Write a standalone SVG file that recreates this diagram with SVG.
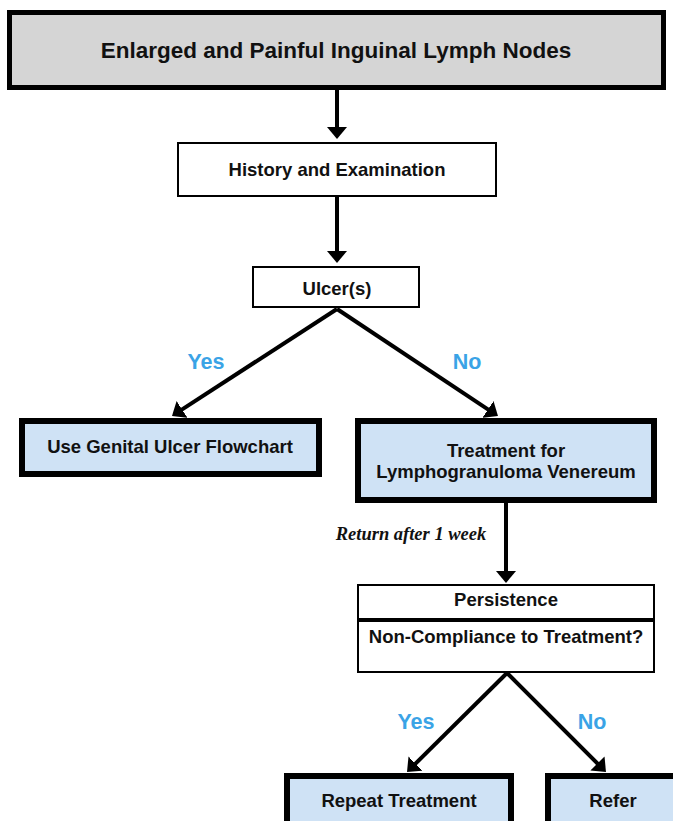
<svg xmlns="http://www.w3.org/2000/svg" width="673" height="821" viewBox="0 0 673 821">
<style>
  text { font-family: "Liberation Sans", Arial, sans-serif; font-weight: bold; fill: #111; text-anchor: middle; }
  .t18 { font-size: 18.5px; }
  .title { font-size: 22.5px; }
  .yn { font-size: 21.5px; fill: #3aa3e6; }
  .note { font-family: "Liberation Serif", "Times New Roman", serif; font-style: italic; font-size: 18.5px; }
  .thick { fill: #cfe2f5; stroke: #000; stroke-width: 6; }
  .thin { fill: #fff; stroke: #000; stroke-width: 2; }
  .conn { stroke: #000; stroke-width: 4; fill: none; marker-end: url(#ah); }
</style>
<defs>
  <marker id="ah" viewBox="0 0 12 20" markerWidth="12" markerHeight="20" refX="4" refY="10" orient="auto" markerUnits="userSpaceOnUse">
    <path d="M0,0 L12,10 L0,20 Z" fill="#000"/>
  </marker>
</defs>
<rect width="673" height="821" fill="#fff"/>

<g id="connectors">
  <line class="conn" x1="337" y1="90" x2="337" y2="131"/>
  <line class="conn" x1="337" y1="197" x2="337" y2="255"/>
  <line class="conn" x1="337" y1="309" x2="178.7" y2="411.6"/>
  <line class="conn" x1="337" y1="309" x2="491.3" y2="411.6"/>
  <line class="conn" x1="506" y1="503" x2="506" y2="575"/>
  <line class="conn" x1="507" y1="673" x2="412.7" y2="766.4"/>
  <line class="conn" x1="507" y1="673" x2="600.3" y2="766.3"/>
</g>

<g id="n-title">
  <rect x="9.5" y="12.5" width="654" height="75" fill="#d5d5d5" stroke="#000" stroke-width="5"/>
  <text class="title" x="336" y="58">Enlarged and Painful Inguinal Lymph Nodes</text>
</g>

<g id="n-history">
  <rect class="thin" x="178" y="143" width="318" height="53"/>
  <text class="t18" x="337" y="176">History and Examination</text>
</g>

<g id="n-ulcer">
  <rect class="thin" x="253" y="267" width="166" height="40"/>
  <text class="t18" x="337" y="295">Ulcer(s)</text>
</g>

<g id="l-yes1"><text class="yn" x="206" y="369">Yes</text></g>
<g id="l-no1"><text class="yn" x="467" y="369">No</text></g>

<g id="n-genital">
  <rect class="thick" x="22" y="421" width="297" height="53"/>
  <text class="t18" x="170" y="453">Use Genital Ulcer Flowchart</text>
</g>

<g id="n-lgv">
  <rect class="thick" x="358" y="421" width="296" height="79"/>
  <text class="t18" x="506" y="457">Treatment for</text>
  <text class="t18" x="506" y="478">Lymphogranuloma Venereum</text>
</g>

<g id="l-return"><text class="note" x="411" y="540">Return after 1 week</text></g>

<g id="n-persistence">
  <rect class="thin" x="358" y="585" width="296" height="87"/>
  <line x1="358" y1="620" x2="654" y2="620" stroke="#000" stroke-width="4"/>
  <text class="t18" x="506" y="606">Persistence</text>
  <text class="t18" x="506" y="643">Non-Compliance to Treatment?</text>
</g>

<g id="l-yes2"><text class="yn" x="416" y="729">Yes</text></g>
<g id="l-no2"><text class="yn" x="592" y="729">No</text></g>

<g id="n-repeat">
  <rect class="thick" x="287" y="776" width="224" height="60"/>
  <text class="t18" x="399" y="807">Repeat Treatment</text>
</g>

<g id="n-refer">
  <rect class="thick" x="548" y="776" width="140" height="60"/>
  <text class="t18" x="613" y="807">Refer</text>
</g>
</svg>
